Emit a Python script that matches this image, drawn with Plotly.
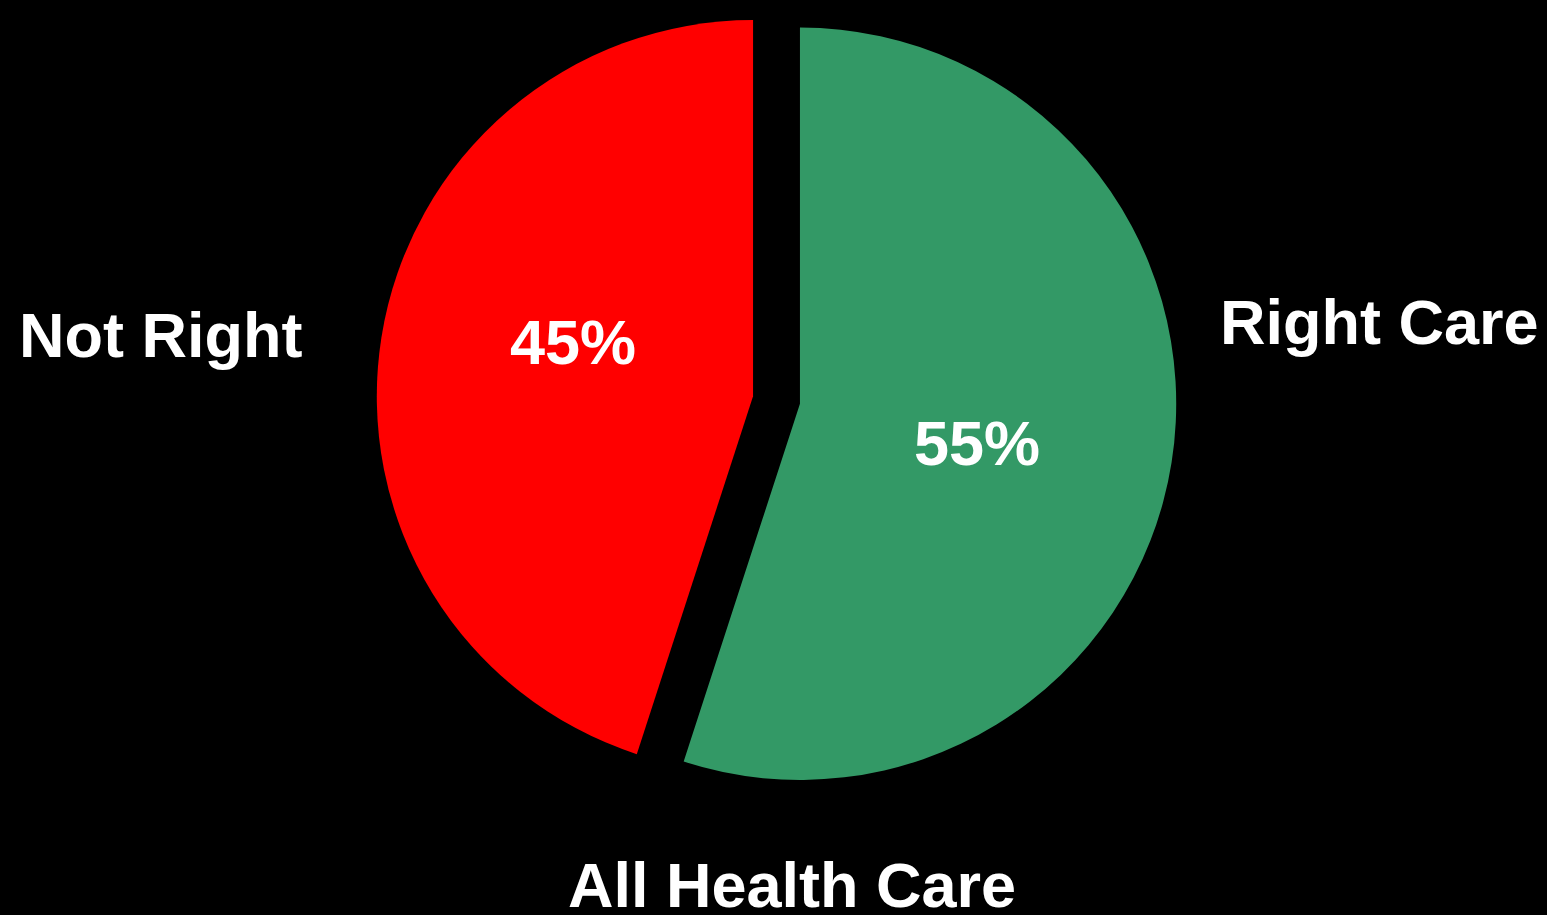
import plotly.graph_objects as go

labels = ["Right Care", "Not Right"]
values = [55, 45]
colors = ["#339966", "#FF0000"]
pulls = [0.0631, 0.0631]
title_text = "All Health Care"

W, H = 1547, 915
FONT = "Liberation Sans, Arial, sans-serif"

fig = go.Figure()
fig.add_trace(go.Pie(
    labels=labels,
    values=values,
    sort=False,
    direction="clockwise",
    rotation=0,
    pull=pulls,
    marker=dict(colors=colors, line=dict(width=0)),
    textinfo="none",
    domain=dict(x=[376.5 / W, 1176.5 / W], y=[1 - 800 / H, 1]),
    showlegend=False,
    hoverinfo="label+percent",
))

total = sum(values)
label_pos = {"Not Right": (160, 335), "Right Care": (1379, 322)}
pct_pos = {"Not Right": (573, 342), "Right Care": (977, 443)}
for lab, val in zip(labels, values):
    x, y = label_pos[lab]
    fig.add_annotation(x=x / W, y=1 - y / H, xref="paper", yref="paper",
                       text=f"<b>{lab}</b>", showarrow=False,
                       xanchor="center", yanchor="middle",
                       font=dict(family=FONT, size=63, color="white"))
    px, py = pct_pos[lab]
    fig.add_annotation(x=px / W, y=1 - py / H, xref="paper", yref="paper",
                       text=f"<b>{round(val / total * 100)}%</b>", showarrow=False,
                       xanchor="center", yanchor="middle",
                       font=dict(family=FONT, size=63, color="white"))

fig.add_annotation(x=792 / W, y=1 - 885 / H, xref="paper", yref="paper",
                   text=f"<b>{title_text}</b>", showarrow=False,
                   xanchor="center", yanchor="middle",
                   font=dict(family=FONT, size=63, color="white"))

fig.update_layout(
    width=W, height=H,
    margin=dict(l=0, r=0, t=0, b=0),
    paper_bgcolor="black",
    plot_bgcolor="black",
)

fig.write_html(
    "out.html",
    config={"displayModeBar": False},
    post_script="document.body.style.margin='0';document.body.style.overflow='hidden';document.body.style.background='black';",
)
